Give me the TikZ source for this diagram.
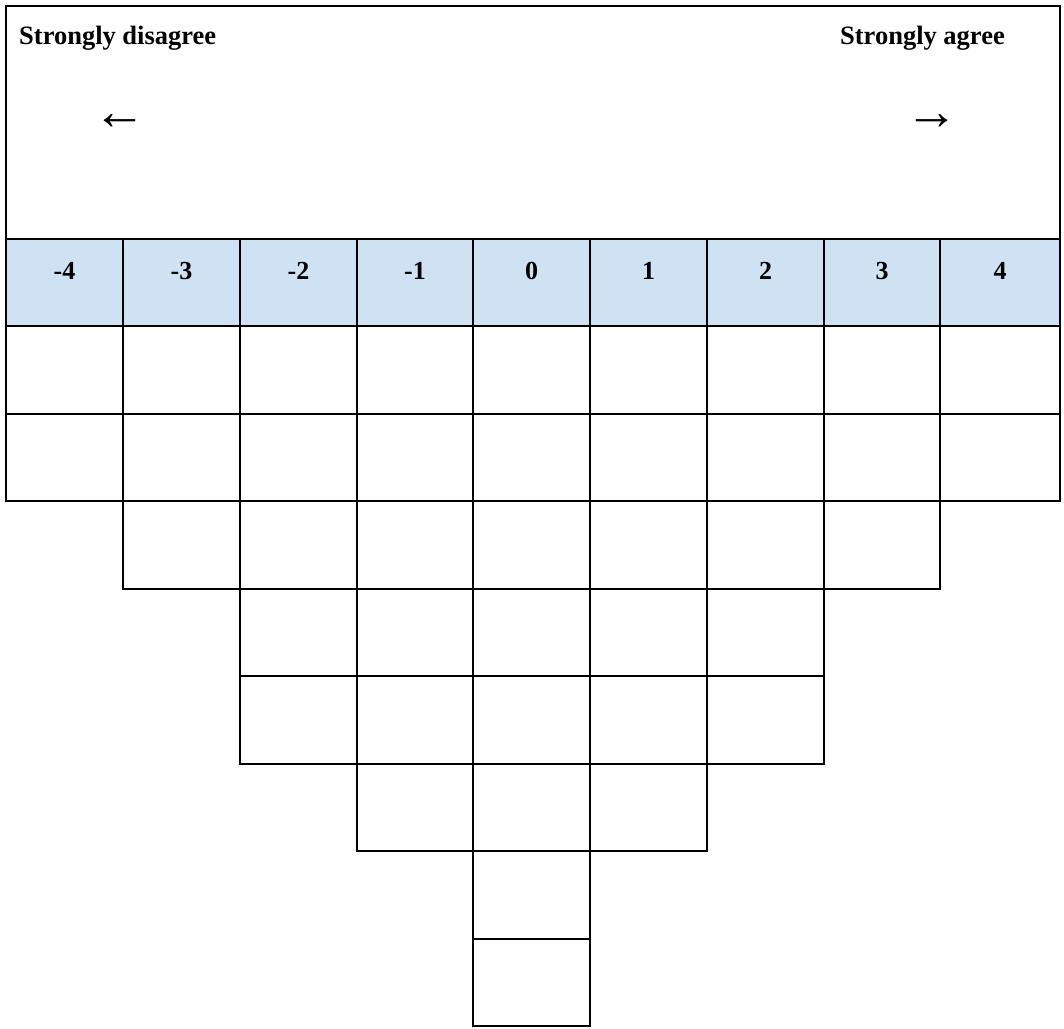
\documentclass[tikz,border=0pt]{standalone}
\usepackage{fontspec}
\setmainfont{Liberation Serif}
\definecolor{entete}{HTML}{CFE2F3}
\tikzset{
  grille/.style={line width=2pt, black},
  titre/.style={font=\fontsize{26.5}{30}\selectfont\bfseries, inner sep=0pt},
  fleche/.style={font=\fontsize{53}{58}\selectfont, inner sep=0pt},
  chiffre/.style={font=\fontsize{26}{30}\selectfont\bfseries, inner sep=0pt}
}
\begin{document}
\begin{tikzpicture}[x=1pt, y=-1pt]
  \useasboundingbox (0,0) rectangle (1064,1028);
  % Cadre sup\'erieur
  \draw[grille] (6,6) rectangle (1060,239);
  \node[titre, anchor=west] (gauche) at (19,38.5) {Strongly disagree};
  \node[titre, anchor=east] (droite) at (1005,38.5) {Strongly agree};
  \node[fleche] (fg) at (120,122) {←};
  \node[fleche] (fd) at (932,122) {→};
  % Colonnes : bord gauche / bord droit / note / nombre de cases
  \foreach \xa/\xb/\note/\n in {6/123/-4/2, 123/240/-3/3, 240/357/-2/5,
      357/473/-1/6, 473/590/0/8, 590/707/1/6, 707/824/2/5,
      824/940/3/3, 940/1060/4/2} {
    \fill[entete] (\xa,239) rectangle (\xb,326);
    \draw[grille] (\xa,239) rectangle (\xb,326);
    \node[chiffre] (n\note) at ({(\xa+\xb)/2},271) {\note};
    \foreach \k in {1,...,\n} {
      \draw[grille] (\xa,{326+87.5*(\k-1)}) rectangle (\xb,{326+87.5*\k});
    }
  }
\end{tikzpicture}
\end{document}
